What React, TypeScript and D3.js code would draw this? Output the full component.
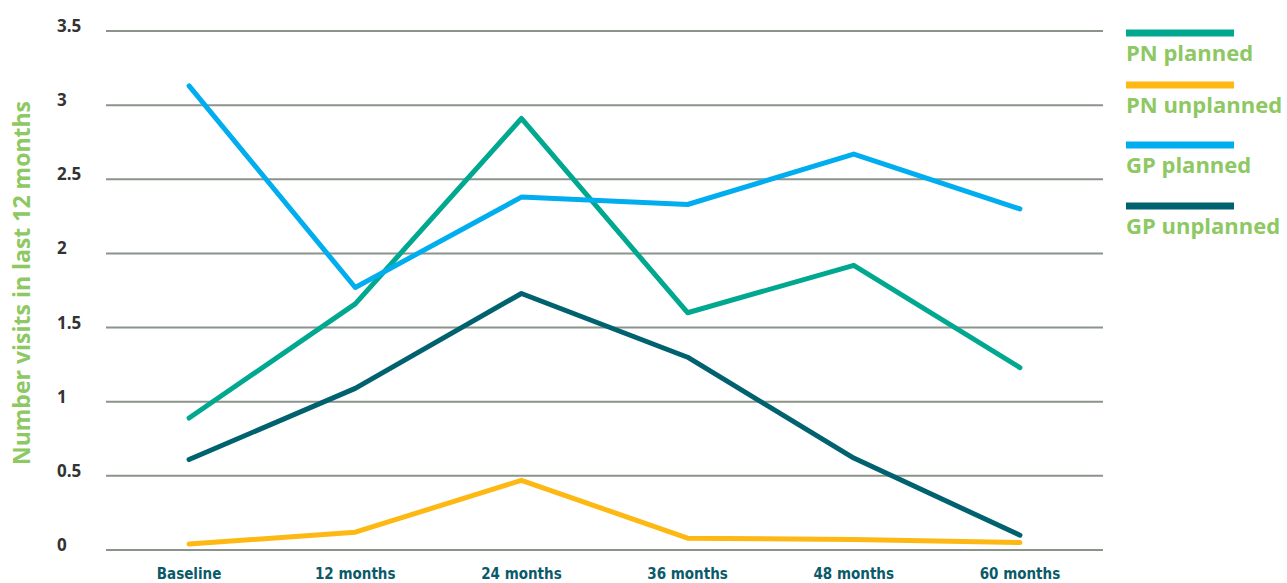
import React from "react";
import * as d3 from "d3";

const categories = ["Baseline", "12 months", "24 months", "36 months", "48 months", "60 months"];
const yTicks = [0, 0.5, 1, 1.5, 2, 2.5, 3, 3.5];
const pnPlanned = [0.89, 1.66, 2.91, 1.6, 1.92, 1.23];
const pnUnplanned = [0.04, 0.12, 0.47, 0.08, 0.07, 0.05];
const gpPlanned = [3.13, 1.77, 2.38, 2.33, 2.67, 2.3];
const gpUnplanned = [0.61, 1.09, 1.73, 1.3, 0.62, 0.1];

const seriesNames = ["PN planned", "PN unplanned", "GP planned", "GP unplanned"];
const seriesColors = ["#00A88F", "#FDB813", "#00AEEF", "#00626F"];
const seriesValues = [pnPlanned, pnUnplanned, gpPlanned, gpUnplanned];

const W = 1287;
const H = 583;
const left = 106;
const right = 1103;
const top = 31;
const bottom = 550;

export default function App() {
  const x = d3.scalePoint<string>().domain(categories).range([left, right]).padding(0.5);
  const y = d3.scaleLinear().domain([0, 3.5]).range([bottom, top]);
  const line = d3
    .line<number>()
    .x((_, i) => x(categories[i]) as number)
    .y((d) => y(d));

  const legendY = [33, 85, 145, 206];
  const drawOrder = [1, 3, 0, 2];

  return (
    <svg width={W} height={H} style={{ position: "absolute", left: 0, top: 0, background: "#fff" }}>
      {yTicks.map((t) => (
        <g key={t}>
          <line x1={left} x2={right} y1={y(t)} y2={y(t)} stroke="#8C938B" strokeWidth={2} />
          <text
            x={57}
            y={y(t) + 1}
            fontFamily="'Open Sans', sans-serif"
            fontWeight={700}
            fontSize={17}
            fill="#333333"
          >
            {t}
          </text>
        </g>
      ))}
      <text
        transform={`translate(30, 283) rotate(-90)`}
        textAnchor="middle"
        fontFamily="'Open Sans', sans-serif"
        fontWeight={700}
        fontSize={23}
        fill="#8DC863"
      >
        Number visits in last 12 months
      </text>
      {categories.map((c) => (
        <text
          key={c}
          x={x(c) as number}
          y={579}
          textAnchor="middle"
          fontFamily="'DejaVu Sans', sans-serif"
          fontStretch="condensed"
          fontWeight={700}
          fontSize={15}
          fill="#0A5A6A"
        >
          {c}
        </text>
      ))}
      {drawOrder.map((i) => (
        <path
          key={seriesNames[i]}
          d={line(seriesValues[i]) || ""}
          fill="none"
          stroke={seriesColors[i]}
          strokeWidth={5}
          strokeLinecap="round"
          strokeLinejoin="round"
        />
      ))}
      {seriesNames.map((n, i) => (
        <g key={n}>
          <rect x={1126} y={legendY[i] - 3.5} width={108} height={7} fill={seriesColors[i]} />
          <text
            x={1126}
            y={legendY[i] + 28}
            fontFamily="'Open Sans', sans-serif"
            fontWeight={700}
            fontSize={22}
            fill="#8DC863"
          >
            {n}
          </text>
        </g>
      ))}
    </svg>
  );
}
